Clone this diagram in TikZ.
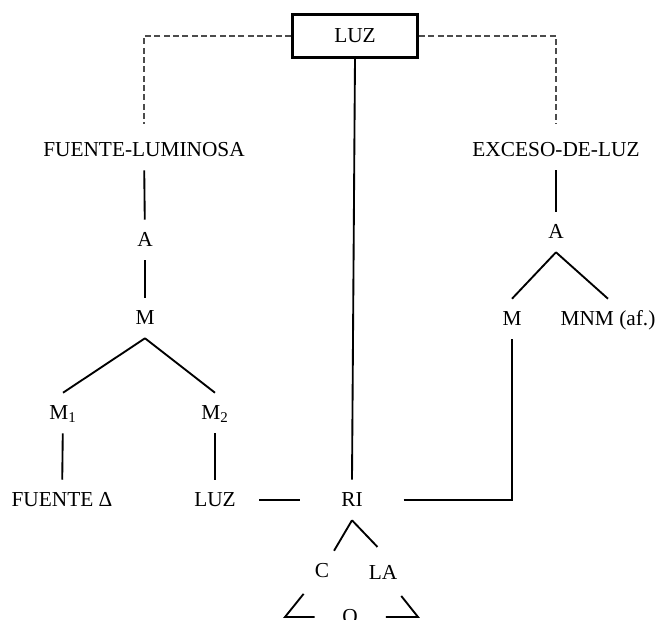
\documentclass[tikz,border=0pt]{standalone}
\usepackage{fontspec}
\setmainfont{Liberation Serif}
\begin{document}
\begin{tikzpicture}[x=0.75pt, y=-0.75pt, line width=1.4pt, word/.style = {font=\fontsize{16}{19}\selectfont, text height=11pt, text depth=2pt, inner xsep=3pt, inner ysep=8pt}, box/.style = {word, draw, line width=2.2pt, minimum width=94pt, minimum height=32pt, inner ysep=0pt}, link/.style = {black!70, line width=0.8pt, dash pattern=on 4.5pt off 2.5pt}]
\useasboundingbox (0,0) rectangle (658,619);
\clip (0,0) rectangle (658,619);
\node[box] (luz) at (355,36) {LUZ};
\node[word] (fl) at (144,150) {FUENTE-LUMINOSA};
\node[word] (ex) at (556,150) {EXCESO-DE-LUZ};
\node[word] (a1) at (145,240) {A};
\node[word] (m1) at (145,318) {M};
\node[word] (ma) at (63,413) {M\textsubscript{1}};
\node[word] (mb) at (215,413) {M\textsubscript{2}};
\node[word] (fd) at (62,500) {FUENTE Δ};
\node[word, inner xsep=17pt] (luz2) at (215,500) {LUZ};
\node[word, inner xsep=30pt] (ri) at (352,500) {RI};
\node[word] (c) at (322,571) {C};
\node[word] (la) at (383,573) {LA};
\node[word] (o) at (350,617) {O};
\node[word] (a2) at (556,232) {A};
\node[word] (m2) at (512,319) {M};
\node[word] (mnm) at (608,319) {MNM (af.)};
\draw[link, shorten >=4pt] (luz.west) -| (fl.north);
\draw[link, shorten >=4pt] (luz.east) -| (ex.north);
\draw (luz.south) -- (ri.north);
\draw (fl) -- (a1);
\draw (a1) -- (m1);
\draw (m1.south) -- (ma.north);
\draw (m1.south) -- (mb.north);
\draw (ma) -- (fd);
\draw (mb) -- (luz2);
\draw (luz2.east) -- (ri.west);
\draw (ri.east) -| (m2.south);
\draw (ex) -- (a2);
\draw (a2.south) -- (m2.north);
\draw (a2.south) -- (mnm.north);
\draw (ri.south) -- (c.north east);
\draw[shorten >=6pt] (ri.south) -- (la.north);
\coordinate (bl) at (285,617);
\coordinate (br) at (418,617);
\draw[shorten <=22pt, shorten >=17pt] (c.center) -- (bl) -- (o.west);
\draw[shorten <=22pt, shorten >=17.5pt] (la.center) -- (br) -- (o.east);
\end{tikzpicture}
\end{document}
